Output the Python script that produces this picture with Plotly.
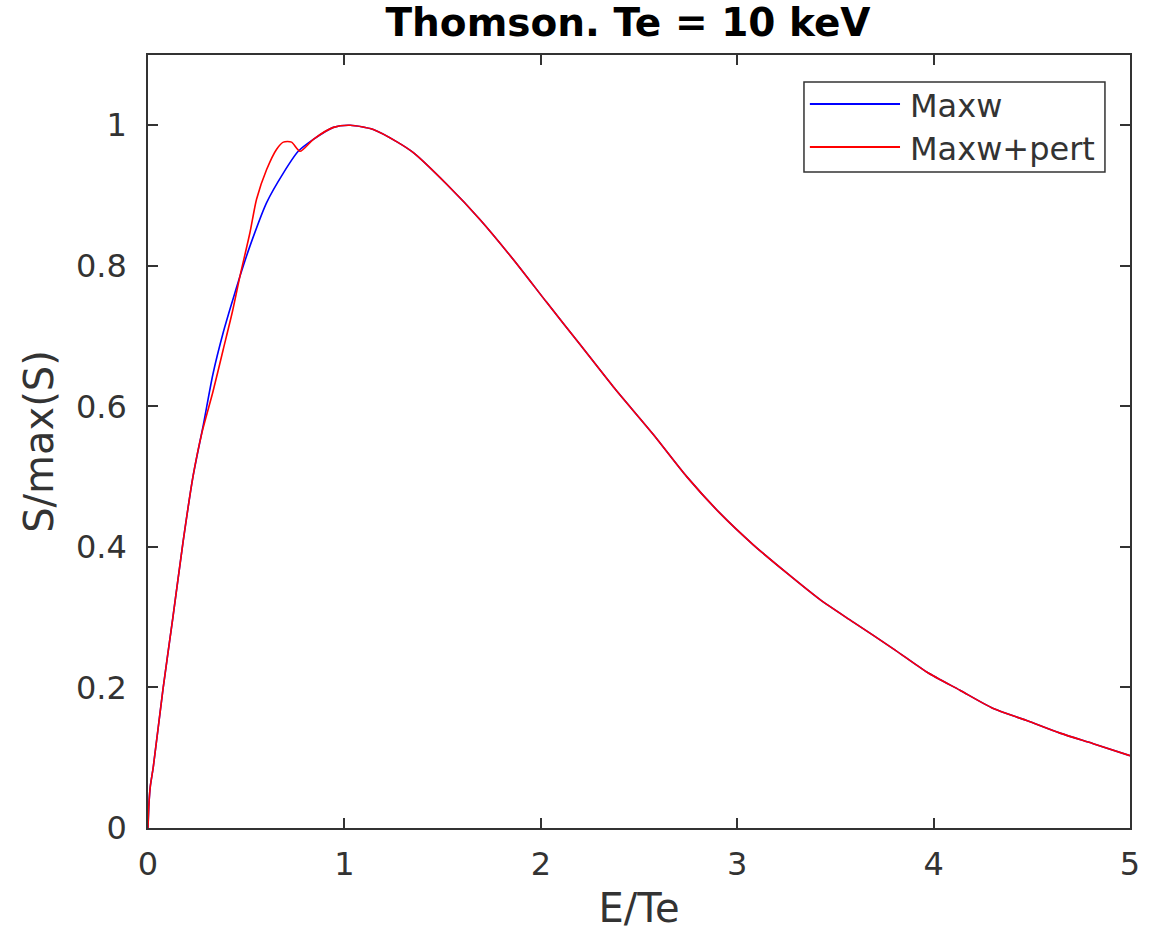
import plotly.graph_objects as go

# Normalised Thomson spectrum S/max(S) versus E/Te, Te = 10 keV
# Low-energy part of the Maxwellian spectrum
maxw_head_e = [0, 0.005, 0.012, 0.027, 0.076, 0.127, 0.178, 0.229, 0.282, 0.33,
               0.383, 0.43, 0.468, 0.519, 0.604, 0.689, 0.765]
maxw_head_s = [0, 0.035, 0.060, 0.087, 0.197, 0.300, 0.406, 0.500, 0.574, 0.645,
               0.705, 0.750, 0.785, 0.828, 0.890, 0.932, 0.963]

# Low-energy part of the perturbed spectrum
pert_head_e = [0, 0.005, 0.012, 0.027, 0.076, 0.127, 0.178, 0.229, 0.275, 0.33,
               0.383, 0.43, 0.468, 0.519, 0.553, 0.604, 0.655, 0.689, 0.731, 0.774]
pert_head_s = [0, 0.035, 0.060, 0.087, 0.197, 0.300, 0.406, 0.500, 0.563, 0.620,
               0.681, 0.735, 0.785, 0.847, 0.895, 0.937, 0.966, 0.976, 0.976, 0.963]

# Common high-energy part (both spectra coincide here)
tail_e = [0.842, 0.944, 1.03, 1.147, 1.27, 1.351, 1.521, 1.690, 1.860, 2.030,
          2.200, 2.369, 2.573, 2.743, 2.912, 3.082, 3.252, 3.422, 3.591, 3.795,
          3.965, 4.134, 4.304, 4.474, 4.644, 4.813, 5.0]
tail_s = [0.980, 0.997, 1.000, 0.994, 0.976, 0.961, 0.916, 0.866, 0.809, 0.748,
          0.688, 0.628, 0.560, 0.500, 0.448, 0.403, 0.363, 0.325, 0.293, 0.255,
          0.222, 0.196, 0.170, 0.153, 0.135, 0.120, 0.103]

x_ticks = [0, 1, 2, 3, 4, 5]
y_ticks = [0, 0.2, 0.4, 0.6, 0.8, 1]
y_tick_text = ["0", "0.2", "0.4", "0.6", "0.8", "1"]

series_names = ["Maxw", "Maxw+pert"]
series_colors = ["#0000ff", "#ff0000"]

FONT = "DejaVu Sans"
AXIS_GREY = "#333333"

fig = go.Figure()
fig.add_trace(go.Scatter(x=maxw_head_e + tail_e, y=maxw_head_s + tail_s,
                         mode="lines", name=series_names[0],
                         line=dict(color=series_colors[0], width=1.6,
                                   shape="spline", smoothing=0.7)))
fig.add_trace(go.Scatter(x=pert_head_e + tail_e, y=pert_head_s + tail_s,
                         mode="lines", name=series_names[1],
                         line=dict(color=series_colors[1], width=1.6,
                                   shape="spline", smoothing=0.7)))

axis_common = dict(showline=True, linecolor=AXIS_GREY, linewidth=1.5,
                   mirror="ticks", ticks="inside", ticklen=10, tickwidth=1.5,
                   tickcolor=AXIS_GREY, showgrid=False, zeroline=False,
                   automargin=False,
                   tickfont=dict(family=FONT, size=32, color=AXIS_GREY))

fig.update_xaxes(range=[0, 5], tickvals=x_ticks, ticktext=[str(v) for v in x_ticks],
                 ticklabelstandoff=7,
                 title=dict(text="E/Te", font=dict(family=FONT, size=40, color=AXIS_GREY),
                            standoff=12),
                 **axis_common)
fig.update_yaxes(range=[0, 1.1], tickvals=y_ticks, ticktext=y_tick_text,
                 ticklabelstandoff=13,
                 title=dict(text="S/max(S)", font=dict(family=FONT, size=40, color=AXIS_GREY),
                            standoff=10),
                 **axis_common)

# Legend box drawn in paper coordinates (long line samples)
legend_box = dict(x0=0.668, x1=0.9745, y0=0.8487, y1=0.965)
legend_rows_y = [0.9366, 0.881]
fig.add_shape(type="rect", xref="paper", yref="paper", **legend_box,
              line=dict(color=AXIS_GREY, width=1.5), fillcolor="white", layer="above")
for name, color, yy in zip(series_names, series_colors, legend_rows_y):
    fig.add_shape(type="line", xref="paper", yref="paper", x0=0.674, x1=0.7658,
                  y0=yy, y1=yy, line=dict(color=color, width=2), layer="above")
    fig.add_annotation(xref="paper", yref="paper", x=0.774, y=yy - 0.003, text=name,
                       showarrow=False, xanchor="left", yanchor="middle",
                       font=dict(family=FONT, size=32, color=AXIS_GREY))

fig.update_layout(
    width=1157, height=932,
    margin=dict(l=148, r=27, t=55, b=104),
    paper_bgcolor="white", plot_bgcolor="white",
    showlegend=False,
    title=dict(text="<b>Thomson. Te = 10 keV</b>", x=0.5428, xanchor="center",
               y=0.976, yanchor="middle",
               font=dict(family=FONT, size=39, color="black")),
)

fig.write_html("out.html")
